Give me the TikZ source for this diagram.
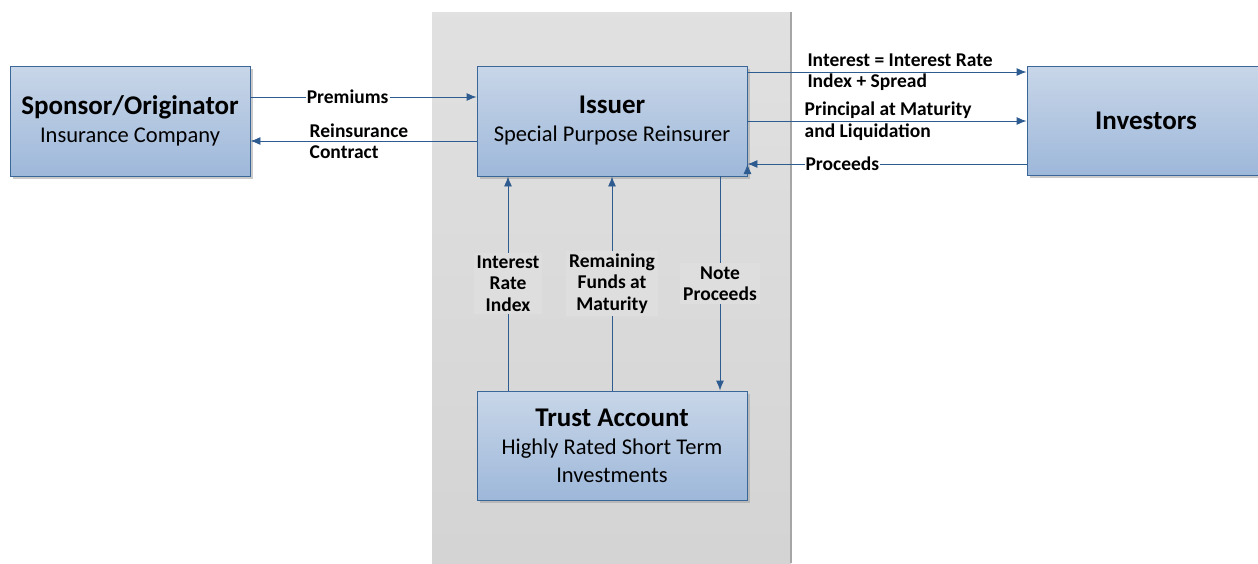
\documentclass[tikz,border=0pt]{standalone}
\usepackage{fontspec}
\setmainfont{Carlito}
\usetikzlibrary{arrows.meta,shadows,calc}

\definecolor{boxline}{HTML}{3A6698}
\definecolor{boxtop}{HTML}{C8D6E8}
\definecolor{boxbot}{HTML}{9EB8DA}
\definecolor{flowline}{HTML}{2F5C90}
\definecolor{panel}{HTML}{DFDFDF}

\tikzset{
  entity/.style={draw=boxline, line width=0.9pt, top color=boxtop, bottom color=boxbot,
    align=center, minimum width=#1, minimum height=110, inner sep=2pt,
    font=\fontsize{22.5}{28}\selectfont,
    drop shadow={shadow xshift=3pt, shadow yshift=-3pt, fill=black!35, opacity=0.6}},
  entity/.default=270,
  flow/.style={draw=flowline, line width=0.9pt, -{Latex[length=10pt,width=8pt]}},
  lbl/.style={font=\bfseries\fontsize{19.5}{21.5}\selectfont, align=left, inner sep=1pt},
  vlbl/.style={lbl, align=center, fill=black!13, inner sep=3pt}
}
\newcommand{\ttl}[1]{{\bfseries\fontsize{27}{30}\selectfont #1}}

\begin{document}
\begin{tikzpicture}[x=1pt,y=-1pt]
\useasboundingbox (0,0) rectangle (1258,563);

% grey panel behind the issuer
\shade[top color=panel!95!white, bottom color=panel!95!black] (432,12) rectangle (791,563);
\draw[black!35, line width=2.5pt] (791,12) -- (791,563);

% entities
\node[entity=240] (spon) at (130,121) {\ttl{Sponsor/Originator}\\ Insurance Company};
\node[entity] (iss) at (612,121) {\ttl{Issuer}\\ Special Purpose Reinsurer};
\node[entity=238, minimum height=109] (inv) at (1146,120.5) {\ttl{Investors}};
\node[entity, minimum height=109] (trust) at (612,445.5) {\ttl{Trust Account}\\ Highly Rated Short Term\\ Investments};

% sponsor <-> issuer
\draw[flow] ([yshift=24pt]spon.east) -- node[lbl, fill=white, pos=0.43] {Premiums} ([yshift=24pt]iss.west);
\draw[flow] ([yshift=-20pt]iss.west) -- node[lbl, pos=0.52] {Reinsurance\\Contract} ([yshift=-20pt]spon.east);

% issuer <-> investors
\draw[flow] ([yshift=49pt]iss.east) coordinate (i1) -- node[lbl, pos=0.21, anchor=west] {Interest = Interest Rate\\Index + Spread} (i1 -| inv.west);
\draw[flow] (iss.east) -- node[lbl, pos=0.2, anchor=west] {Principal at Maturity\\and Liquidation} (iss.east -| inv.west);
\draw[flow] ([yshift=-43pt]iss.east) coordinate (i3);
\draw[flow] (i3 -| inv.west) -- node[lbl, fill=white, pos=0.66] {Proceeds} (i3);

% trust account <-> issuer
\draw[flow] ([xshift=-104pt]trust.north) -- node[vlbl] {Interest\\Rate\\Index} ([xshift=-104pt]iss.south);
\draw[flow] (trust.north) -- node[vlbl] {Remaining\\Funds at\\Maturity} (iss.south);
\draw[flow] ([xshift=108pt]iss.south) -- node[vlbl] {Note\\Proceeds} ([xshift=108pt]trust.north);
\end{tikzpicture}
\end{document}
